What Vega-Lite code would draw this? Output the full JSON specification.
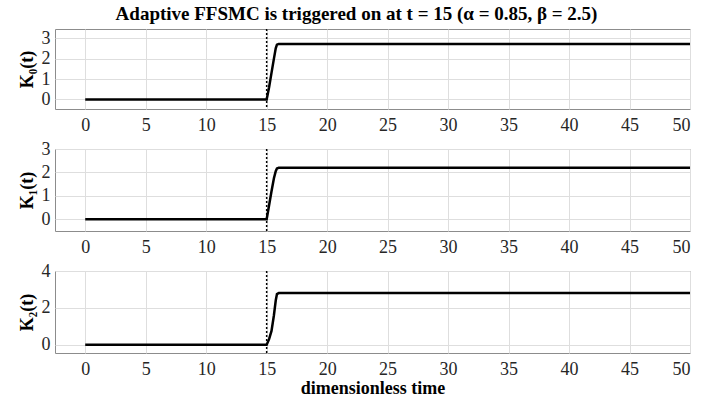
{
  "$schema": "https://vega.github.io/schema/vega-lite/v6.json",
  "padding": {"left": 17, "top": 4, "right": 8, "bottom": 1},
  "background": "white",
  "title": {"text": "Adaptive FFSMC is triggered on at t = 15 (α = 0.85, β = 2.5)", "font": "Liberation Serif", "fontSize": 19, "fontWeight": "bold", "color": "black", "anchor": "middle", "offset": 4},
  "spacing": 4,
  "datasets": {
    "k": [
      {"series": "K0", "t": 0, "k": 0}, {"series": "K0", "t": 15, "k": 0}, {"series": "K0", "t": 15.2, "k": 0.6}, {"series": "K0", "t": 15.4, "k": 1.3}, {"series": "K0", "t": 15.6, "k": 2.0}, {"series": "K0", "t": 15.75, "k": 2.5}, {"series": "K0", "t": 15.85, "k": 2.68}, {"series": "K0", "t": 16, "k": 2.72}, {"series": "K0", "t": 50, "k": 2.72},
      {"series": "K1", "t": 0, "k": 0}, {"series": "K1", "t": 15, "k": 0}, {"series": "K1", "t": 15.2, "k": 0.6}, {"series": "K1", "t": 15.4, "k": 1.2}, {"series": "K1", "t": 15.6, "k": 1.75}, {"series": "K1", "t": 15.75, "k": 2.05}, {"series": "K1", "t": 15.85, "k": 2.17}, {"series": "K1", "t": 16, "k": 2.2}, {"series": "K1", "t": 50, "k": 2.2},
      {"series": "K2", "t": 0, "k": 0}, {"series": "K2", "t": 15, "k": 0}, {"series": "K2", "t": 15.2, "k": 0.3}, {"series": "K2", "t": 15.4, "k": 0.75}, {"series": "K2", "t": 15.6, "k": 1.6}, {"series": "K2", "t": 15.75, "k": 2.4}, {"series": "K2", "t": 15.85, "k": 2.75}, {"series": "K2", "t": 16, "k": 2.8}, {"series": "K2", "t": 50, "k": 2.8}
    ],
    "trigger": [{"t": 15}]
  },
  "config": {
    "font": "Liberation Serif",
    "view": {"stroke": "#8c8c8c", "strokeWidth": 1},
    "axis": {
      "labelFont": "Liberation Serif", "labelFontSize": 18, "labelColor": "#262626",
      "titleFont": "Liberation Serif", "titleFontSize": 18, "titleFontWeight": "bold", "titleColor": "black",
      "grid": true, "gridColor": "#dedede", "gridWidth": 1,
      "ticks": false, "domain": false
    },
    "axisX": {"labelPadding": 7, "labelAngle": 0},
    "axisY": {"labelPadding": 5, "titlePadding": 5}
  },
  "vconcat": [
    {
      "width": 635, "height": 80,
      "layer": [
        {"data": {"name": "trigger"}, "mark": {"type": "rule", "color": "black", "strokeDash": [2, 2], "strokeWidth": 1.5},
         "encoding": {"x": {"field": "t", "type": "quantitative", "scale": {"domain": [-2.5, 50], "nice": false}}}},
        {"data": {"name": "k"}, "transform": [{"filter": "datum.series == 'K0'"}],
         "mark": {"type": "line", "color": "black", "strokeWidth": 2.5},
         "encoding": {
           "x": {"field": "t", "type": "quantitative", "scale": {"domain": [-2.5, 50], "nice": false}, "axis": {"values": [0,5,10,15,20,25,30,35,40,45,50], "title": null}},
           "y": {"field": "k", "type": "quantitative", "scale": {"domain": [-0.47, 3.45], "nice": false, "zero": false}, "axis": {"values": [0,1,2,3], "title": "K₀(t)"}}
         }}
      ]
    },
    {
      "width": 635, "height": 82,
      "layer": [
        {"data": {"name": "trigger"}, "mark": {"type": "rule", "color": "black", "strokeDash": [2, 2], "strokeWidth": 1.5},
         "encoding": {"x": {"field": "t", "type": "quantitative", "scale": {"domain": [-2.5, 50], "nice": false}}}},
        {"data": {"name": "k"}, "transform": [{"filter": "datum.series == 'K1'"}],
         "mark": {"type": "line", "color": "black", "strokeWidth": 2.5},
         "encoding": {
           "x": {"field": "t", "type": "quantitative", "scale": {"domain": [-2.5, 50], "nice": false}, "axis": {"values": [0,5,10,15,20,25,30,35,40,45,50], "title": null}},
           "y": {"field": "k", "type": "quantitative", "scale": {"domain": [-0.5, 3], "nice": false, "zero": false}, "axis": {"values": [0,1,2,3], "title": "K₁(t)"}}
         }}
      ]
    },
    {
      "width": 635, "height": 82,
      "layer": [
        {"data": {"name": "trigger"}, "mark": {"type": "rule", "color": "black", "strokeDash": [2, 2], "strokeWidth": 1.5},
         "encoding": {"x": {"field": "t", "type": "quantitative", "scale": {"domain": [-2.5, 50], "nice": false}}}},
        {"data": {"name": "k"}, "transform": [{"filter": "datum.series == 'K2'"}],
         "mark": {"type": "line", "color": "black", "strokeWidth": 2.5},
         "encoding": {
           "x": {"field": "t", "type": "quantitative", "scale": {"domain": [-2.5, 50], "nice": false}, "axis": {"values": [0,5,10,15,20,25,30,35,40,45,50], "title": "dimensionless time", "titlePadding": 1}},
           "y": {"field": "k", "type": "quantitative", "scale": {"domain": [-0.45, 4], "nice": false, "zero": false}, "axis": {"values": [0,2,4], "title": "K₂(t)"}}
         }}
      ]
    }
  ]
}
